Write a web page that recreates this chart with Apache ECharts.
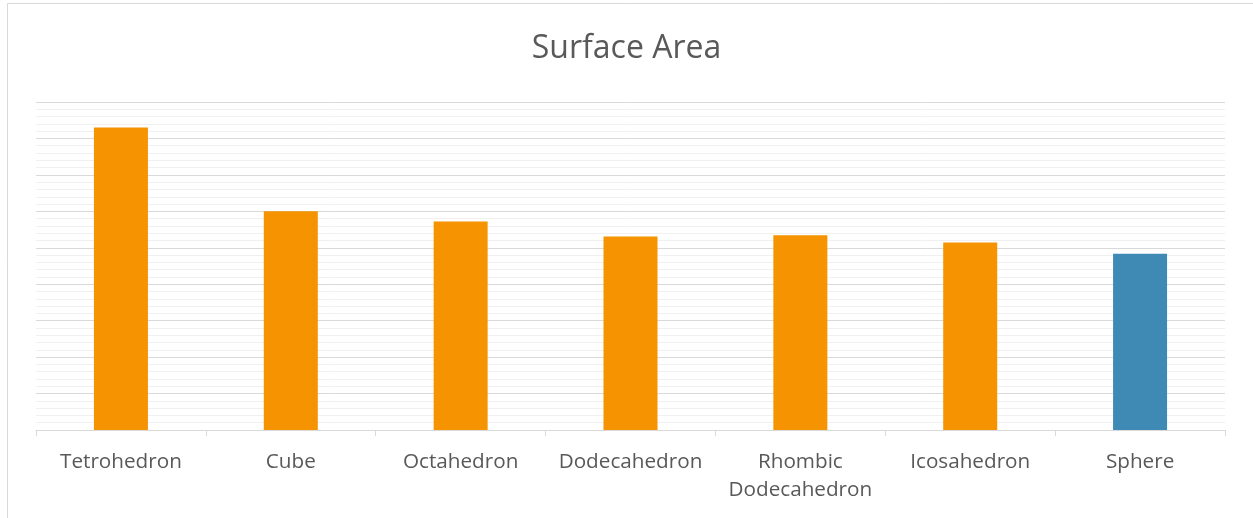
<!DOCTYPE html>
<html>
<head>
<meta charset="utf-8">
<title>Surface Area</title>
<script src="https://cdn.jsdelivr.net/npm/echarts@6/dist/echarts.min.js"></script>
<style>
  html, body { margin: 0; padding: 0; background: #ffffff; }
  #chart { width: 1253px; height: 518px; }
</style>
</head>
<body>
<div id="chart"></div>
<script>
// Surface area of solids of equal volume
const categories = ['Tetrohedron', 'Cube', 'Octahedron', 'Dodecahedron', 'Rhombic\nDodecahedron', 'Icosahedron', 'Sphere'];
const surfaceArea = [8.3, 6.0, 5.72, 5.31, 5.345, 5.148, 4.836];
const barColors = ['#f59300', '#f59300', '#f59300', '#f59300', '#f59300', '#f59300', '#3f89b5'];

const chart = echarts.init(document.getElementById('chart'), null, { renderer: 'canvas' });

const option = {
  backgroundColor: '#ffffff',
  animation: false,
  title: {
    text: 'Surface Area',
    left: 'center',
    top: 28,
    textStyle: {
      fontFamily: 'Open Sans',
      fontSize: 32,
      fontWeight: 'normal',
      color: '#595959'
    }
  },
  graphic: [{
    type: 'rect',
    shape: { x: 7.5, y: 3.5, width: 1300, height: 600 },
    style: { fill: 'none', stroke: '#d9d9d9', lineWidth: 1 },
    silent: true,
    z: -1
  }],
  grid: {
    left: 36,
    right: 28,
    top: 102,
    bottom: 88,
    containLabel: false
  },
  xAxis: {
    type: 'category',
    data: categories,
    axisLine: { lineStyle: { color: '#d9d9d9', width: 1 } },
    axisTick: { show: true, length: 6, lineStyle: { color: '#d9d9d9' } },
    axisLabel: {
      margin: 18,
      fontFamily: 'Open Sans',
      fontSize: 20.7,
      lineHeight: 28,
      color: '#595959',
      interval: 0
    }
  },
  yAxis: {
    type: 'value',
    min: 0,
    max: 9,
    interval: 1,
    axisLabel: { show: false },
    axisLine: { show: false },
    axisTick: { show: false },
    splitLine: { show: true, lineStyle: { color: '#d9d9d9', width: 1 } },
    minorTick: { show: false, splitNumber: 5 },
    minorSplitLine: { show: true, lineStyle: { color: '#f0f0f0', width: 1 } }
  },
  series: [{
    type: 'bar',
    data: surfaceArea.map((v, i) => ({ value: v, itemStyle: { color: barColors[i] } })),
    barWidth: 54
  }]
};

chart.setOption(option);
</script>
</body>
</html>
